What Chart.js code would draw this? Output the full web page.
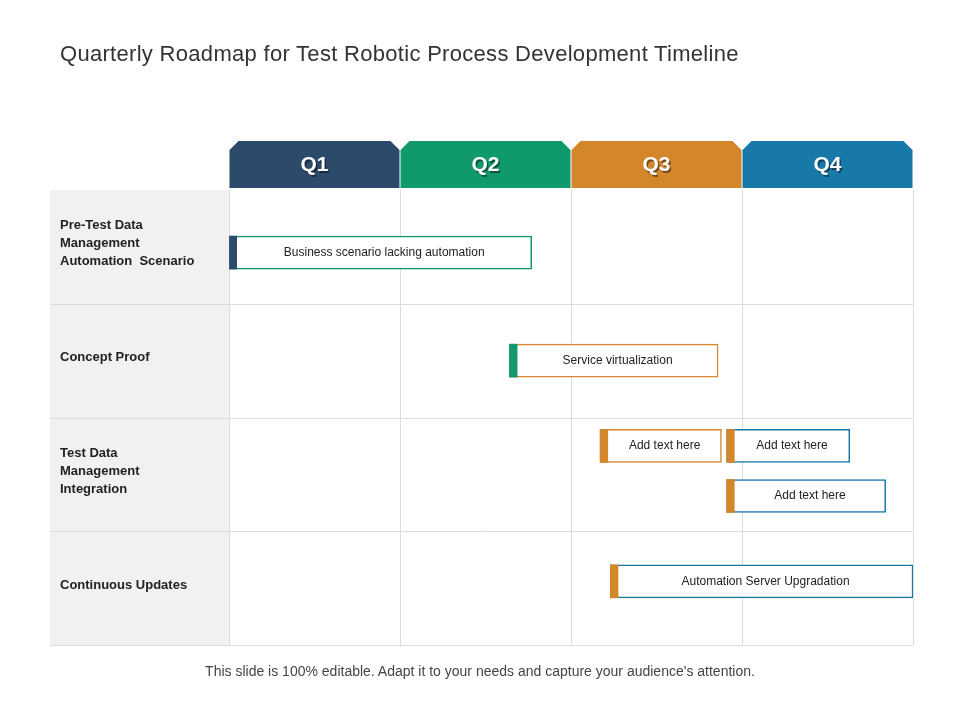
<!DOCTYPE html>
<html>
<head>
<meta charset="utf-8">
<script src="https://cdn.jsdelivr.net/npm/chart.js@4"></script>
<style>
  html, body { margin: 0; padding: 0; background: #fff; }
  #wrap { position: relative; width: 960px; height: 720px; }
  h1 { position: absolute; left: 60px; top: 41px; margin: 0; font: 400 22px "Liberation Sans", Arial, sans-serif; color: #333; letter-spacing: 0.3px; }
  #foot { position: absolute; left: 0; width: 960px; top: 663px; text-align: center; font: 14px "Liberation Sans", Arial, sans-serif; color: #444; }
</style>
</head>
<body>
<div id="wrap">
  <h1>Quarterly Roadmap for Test Robotic Process Development Timeline</h1>
  <canvas id="roadmap" width="960" height="720"></canvas>
  <div id="foot">This slide is 100% editable. Adapt it to your needs and capture your audience's attention.</div>
</div>
<script>
const quarters = ['Q1', 'Q2', 'Q3', 'Q4'];
const quarterColors = ['#2c4a6a', '#11996e', '#d4862a', '#1878a8'];
const rowLabels = [
  ['Pre-Test Data', 'Management', 'Automation  Scenario'],
  ['Concept Proof'],
  ['Test Data', 'Management', 'Integration'],
  ['Continuous Updates']
];
// task bars: label, start/end in quarters, row position
const taskNames = ['Business scenario lacking automation', 'Service virtualization', 'Add text here', 'Add text here', 'Add text here', 'Automation Server Upgradation'];
const taskStart = [0.0, 1.64, 2.17, 2.91, 2.91, 2.23];
const taskEnd = [1.77, 2.86, 2.88, 3.63, 3.84, 4.0];
const taskRow = [0.55, 1.5, 2.25, 2.25, 2.69, 3.44];
const accentColors = ['#2c4a6a', '#11996e', '#d4862a', '#d4862a', '#d4862a', '#d4862a'];
const borderColors = ['#11996e', '#d4862a', '#d4862a', '#1878a8', '#1878a8', '#1878a8'];
const accentWidth = 0.045;

const barData = taskNames.map((n, i) => ({ x: [taskStart[i], taskEnd[i]], y: taskRow[i] }));
const accentData = taskNames.map((n, i) => ({ x: [taskStart[i], taskStart[i] + accentWidth], y: taskRow[i] }));

const backdrop = {
  id: 'backdrop',
  beforeDraw(chart) {
    const { ctx, chartArea: a, scales: { x, y } } = chart;
    ctx.save();
    ctx.fillStyle = '#f1f1f1';
    ctx.fillRect(50, a.top, a.left - 50, a.bottom - a.top);
    ctx.strokeStyle = '#dcdcdc';
    ctx.lineWidth = 1;
    for (let r = 1; r <= 4; r++) {
      const py = Math.round(y.getPixelForValue(r)) + 0.5;
      ctx.beginPath(); ctx.moveTo(50, py); ctx.lineTo(a.right, py); ctx.stroke();
    }
    // headers
    quarters.forEach((q, i) => {
      const x0 = x.getPixelForValue(i) + 0.5, x1 = x.getPixelForValue(i + 1) - 0.5;
      const top = 141, bot = a.top - 2, c = 9;
      ctx.fillStyle = quarterColors[i];
      ctx.beginPath();
      ctx.moveTo(x0, bot); ctx.lineTo(x0, top + c); ctx.lineTo(x0 + c, top);
      ctx.lineTo(x1 - c, top); ctx.lineTo(x1, top + c); ctx.lineTo(x1, bot);
      ctx.closePath(); ctx.fill();
      ctx.font = 'bold 21px "Liberation Sans", Arial, sans-serif';
      ctx.textAlign = 'center'; ctx.textBaseline = 'middle';
      ctx.fillStyle = 'rgba(0,0,0,0.45)';
      ctx.fillText(q, (x0 + x1) / 2 + 1.5, (top + bot) / 2 + 2.5);
      ctx.fillStyle = '#fff';
      ctx.fillText(q, (x0 + x1) / 2, (top + bot) / 2 + 1);
    });
    // row labels
    ctx.fillStyle = '#222';
    ctx.font = 'bold 13px "Liberation Sans", Arial, sans-serif';
    ctx.textAlign = 'left'; ctx.textBaseline = 'middle';
    rowLabels.forEach((lines, r) => {
      const cy = y.getPixelForValue(r + 0.5);
      lines.forEach((t, k) => ctx.fillText(t, 60, cy + (k - (lines.length - 1) / 2) * 18 - 3));
    });
    ctx.restore();
  },
  afterDatasetsDraw(chart) {
    const { ctx, scales: { x, y } } = chart;
    ctx.save();
    ctx.fillStyle = '#222';
    ctx.font = '12px "Liberation Sans", Arial, sans-serif';
    ctx.textAlign = 'center'; ctx.textBaseline = 'middle';
    taskNames.forEach((t, i) => {
      const cx = (x.getPixelForValue(taskStart[i] + accentWidth) + x.getPixelForValue(taskEnd[i])) / 2;
      ctx.fillText(t, cx, y.getPixelForValue(taskRow[i]));
    });
    ctx.restore();
  }
};

new Chart(document.getElementById('roadmap'), {
  type: 'bar',
  data: {
    datasets: [
      { data: accentData, backgroundColor: accentColors, borderWidth: 0, barThickness: 33, grouped: false, order: 0 },
      { data: barData, backgroundColor: '#ffffff', borderColor: borderColors, borderWidth: 1.5, borderSkipped: false, barThickness: 33, grouped: false, order: 1 }
    ]
  },
  options: {
    indexAxis: 'y',
    responsive: false,
    animation: false,
    layout: { padding: { left: 221, top: 190, right: 47, bottom: 75 } },
    plugins: { legend: { display: false }, tooltip: { enabled: false } },
    scales: {
      x: {
        type: 'linear', min: 0, max: 4, offset: false,
        ticks: { display: false, stepSize: 1 },
        grid: { color: '#dcdcdc', drawTicks: false, offset: false },
        border: { display: false }
      },
      y: {
        type: 'linear', min: 0, max: 4, reverse: true, offset: false,
        ticks: { display: false },
        grid: { display: false, offset: false },
        border: { display: false }
      }
    }
  },
  plugins: [backdrop]
});
</script>
</body>
</html>
